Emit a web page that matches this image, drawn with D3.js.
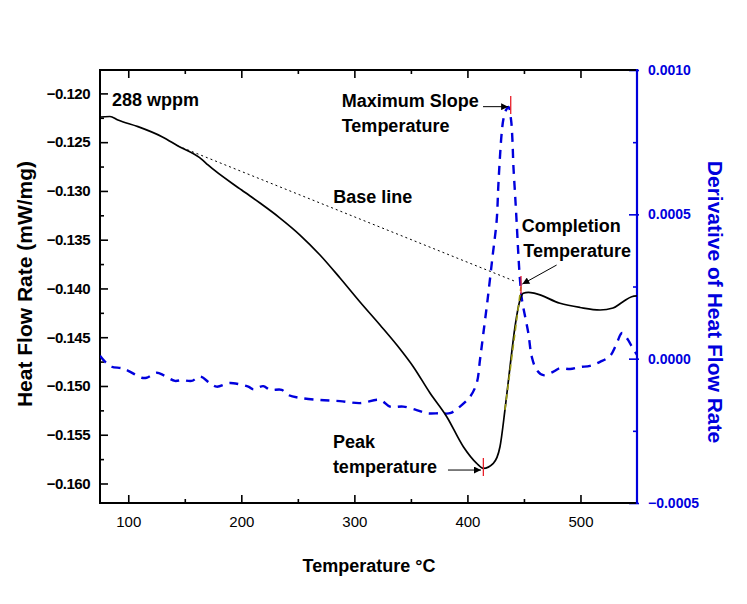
<!DOCTYPE html>
<html><head><meta charset="utf-8">
<script src="https://cdn.jsdelivr.net/npm/d3@7"></script>
<style>
body{margin:0;background:#fff;}
svg text{font-family:"Liberation Sans", Arial, Helvetica, sans-serif;}
</style>
</head><body>
<svg id="chart" width="747" height="604"></svg>
<script>
// ---------------- data ----------------
const hfTemp = [75, 83.8, 90.9, 108.6, 129.8, 144, 165, 170.5, 200.3, 216.5, 234.2, 251.9, 269.6, 287.3, 305, 322.7, 340.4, 352.1, 366.9, 381.7, 396.4, 408.2, 414.1, 422.9, 428.8, 433.2, 437.7, 442.1, 446.5, 449.4, 453.9, 459.8, 481.9, 499.6, 517.3, 528.8, 537.6, 545.3, 550];
const heatFlow = [-0.12242, -0.12237, -0.12273, -0.12341, -0.12444, -0.12539, -0.12676, -0.12734, -0.12991, -0.13124, -0.13278, -0.13452, -0.13657, -0.13893, -0.14139, -0.14375, -0.14621, -0.14802, -0.15072, -0.15315, -0.15623, -0.15793, -0.15844, -0.15793, -0.15623, -0.15246, -0.14802, -0.14392, -0.14118, -0.1405, -0.1404, -0.1405, -0.14152, -0.14195, -0.14221, -0.142, -0.14136, -0.14085, -0.14077];

const dTemp = [75, 79.4, 85.3, 94.2, 100, 111.9, 116.3, 125.2, 131, 141.3, 147.3, 156.1, 163.5, 172.3, 178.2, 188.5, 192.9, 206.2, 210.6, 219.4, 225.4, 235.7, 241.6, 251.9, 269.6, 287.3, 305, 322.7, 331.5, 343.3, 355.1, 364, 375.8, 384.6, 393.4, 402.3, 408.2, 411.1, 414.1, 417.8, 422.2, 425.9, 427.3, 428.8, 430.3, 431.7, 434.1, 436.4, 438.6, 439.8, 440.7, 442.1, 443.6, 445, 446.5, 448.3, 453.9, 456.9, 461.3, 467.2, 476.1, 482, 490.8, 499.6, 508.5, 517.3, 526.1, 531.4, 536.8, 542.1, 545.6, 550];
const derivative = [0.00001, -0.0000105, -0.000028, -0.000033, -0.000042, -0.000066, -0.000066, -0.000049, -0.000057, -0.000077, -0.000074, -0.000077, -0.000062, -0.000085, -0.000097, -0.000085, -0.000085, -0.000097, -0.000106, -0.000095, -0.000108, -0.000108, -0.000126, -0.000136, -0.000143, -0.000147, -0.000154, -0.000143, -0.000166, -0.000166, -0.000178, -0.000189, -0.000189, -0.000189, -0.000166, -0.000132, -0.000085, -0.0000046, 0.000088, 0.000203, 0.000353, 0.00048, 0.000596, 0.0007, 0.000781, 0.000827, 0.000861, 0.000872, 0.000827, 0.000758, 0.000665, 0.000573, 0.000469, 0.000365, 0.000273, 0.000203, 0.000088, 0.0000069, -0.000039, -0.000057, -0.000045, -0.000033, -0.000036, -0.000029, -0.000025, -0.000011, 0.0000093, 0.000047, 0.000089, 0.000065, 0.00004, 0.000013];

// base line (dotted) and tangent (olive)
const baseLineTemp = [144, 443.6];
const baseLineHF = [-0.12539, -0.13934];
const tangentTemp = [433.2, 447.4];
const tangentHF = [-0.15246, -0.1398];

const xTicks = [100, 200, 300, 400, 500];
const xMinor = [150, 250, 350, 450];
const leftTicks = [-0.120, -0.125, -0.130, -0.135, -0.140, -0.145, -0.150, -0.155, -0.160];
const leftMinor = [-0.1225, -0.1275, -0.1325, -0.1375, -0.1425, -0.1475, -0.1525, -0.1575];
const rightTicks = [0.0010, 0.0005, 0.0000, -0.0005];
const rightMinor = [0.00075, 0.00025, -0.00025];

// annotations (data coordinates: temperature, heat flow)
const labels = [
  {t: 85.6, v: -0.12129, text: "288 wppm"},
  {t: 288.8, v: -0.12139, text: "Maximum Slope"},
  {t: 288.8, v: -0.12396, text: "Temperature"},
  {t: 281.4, v: -0.13127, text: "Base line"},
  {t: 448.0, v: -0.13418, text: "Completion"},
  {t: 449.4, v: -0.13674, text: "Temperature"},
  {t: 281.0, v: -0.15636, text: "Peak"},
  {t: 281.0, v: -0.15892, text: "temperature"}
];
const arrows = [
  {t0: 413.8, v0: -0.12136, t1: 436.0, v1: -0.12136},
  {t0: 478.9, v0: -0.13760, t1: 448.6, v1: -0.13955},
  {t0: 382.8, v0: -0.15862, t1: 412.0, v1: -0.15862}
];
const markers = [
  {t: 438.3, v: -0.12120},
  {t: 447.4, v: -0.13965},
  {t: 414.1, v: -0.15831}
];

// ---------------- layout ----------------
const L = 100, R = 637, T = 70, B = 503;
const BLUE = "#0000dd";
const FONT = '"Liberation Sans", Arial, sans-serif';
const svg = d3.select("#chart");

const x = d3.scaleLinear().domain([75, 550]).range([L, R]);
const yL = d3.scaleLinear().domain([-0.1620, -0.1176]).range([B, T]);
const yR = d3.scaleLinear().domain([-0.0005, 0.0010]).range([B, T]);

function style(g, color) {
  g.select(".domain").remove();
  g.selectAll(".tick line").attr("stroke", color).attr("stroke-width", 1.6);
}

// bottom axis
svg.append("g").attr("transform", `translate(0,${B})`)
  .call(d3.axisBottom(x).tickValues(xTicks).tickSize(-8).tickPadding(13).tickFormat(d3.format("d")))
  .call(g => { style(g, "#000"); g.selectAll("text").attr("font-size", 15).attr("fill", "#000").attr("font-family", FONT); });
svg.append("g").attr("transform", `translate(0,${B})`)
  .call(d3.axisBottom(x).tickValues(xMinor).tickSize(-4).tickFormat(""))
  .call(g => style(g, "#000"));
// top axis
svg.append("g").attr("transform", `translate(0,${T})`)
  .call(d3.axisTop(x).tickValues(xTicks).tickSize(-8).tickFormat(""))
  .call(g => style(g, "#000"));
svg.append("g").attr("transform", `translate(0,${T})`)
  .call(d3.axisTop(x).tickValues(xMinor).tickSize(-4).tickFormat(""))
  .call(g => style(g, "#000"));
// left axis
svg.append("g").attr("transform", `translate(${L},0)`)
  .call(d3.axisLeft(yL).tickValues(leftTicks).tickSize(-8).tickPadding(10).tickFormat(d3.format(".3f")))
  .call(g => { style(g, "#000"); g.selectAll("text").attr("font-size", 15).attr("letter-spacing", "-0.5px").attr("font-weight", "bold").attr("fill", "#000").attr("font-family", FONT); });
svg.append("g").attr("transform", `translate(${L},0)`)
  .call(d3.axisLeft(yL).tickValues(leftMinor).tickSize(-4).tickFormat(""))
  .call(g => style(g, "#000"));
// right axis
svg.append("g").attr("transform", `translate(${R},0)`)
  .call(d3.axisRight(yR).tickValues(rightTicks).tickSize(-8).tickPadding(11).tickFormat(d3.format(".4f")))
  .call(g => { style(g, BLUE); g.selectAll(".tick line").attr("x2", -8).attr("x1", 2); g.selectAll("text").attr("font-size", 14).attr("font-weight", "bold").attr("fill", BLUE).attr("font-family", FONT); });
svg.append("g").attr("transform", `translate(${R},0)`)
  .call(d3.axisRight(yR).tickValues(rightMinor).tickSize(-4).tickFormat(""))
  .call(g => style(g, BLUE));

// frame
svg.append("line").attr("x1", L).attr("x2", R).attr("y1", T).attr("y2", T).attr("stroke", "#000").attr("stroke-width", 2);
svg.append("line").attr("x1", L).attr("x2", R).attr("y1", B).attr("y2", B).attr("stroke", "#000").attr("stroke-width", 2);
svg.append("line").attr("x1", L).attr("x2", L).attr("y1", T - 1).attr("y2", B + 1).attr("stroke", "#000").attr("stroke-width", 2);
svg.append("line").attr("x1", R).attr("x2", R).attr("y1", T - 1).attr("y2", B + 1).attr("stroke", BLUE).attr("stroke-width", 2.2);

// clip
svg.append("clipPath").attr("id", "clip").append("rect").attr("x", L).attr("y", T).attr("width", R - L).attr("height", B - T);
const plot = svg.append("g").attr("clip-path", "url(#clip)");

// derivative (blue dashed)
const dLine = d3.line().x(i => x(dTemp[i])).y(i => yR(derivative[i])).curve(d3.curveCatmullRom.alpha(0.5));
plot.append("path").attr("d", dLine(d3.range(dTemp.length)))
  .attr("fill", "none").attr("stroke", BLUE).attr("stroke-width", 2.4).attr("stroke-dasharray", "9,7");

// base line (dotted)
plot.append("path").attr("d", d3.line().x(i => x(baseLineTemp[i])).y(i => yL(baseLineHF[i]))(d3.range(baseLineTemp.length)))
  .attr("fill", "none").attr("stroke", "#000").attr("stroke-width", 1).attr("stroke-dasharray", "2,3");

// heat flow (black)
const hLine = d3.line().x(i => x(hfTemp[i])).y(i => yL(heatFlow[i])).curve(d3.curveMonotoneX);
plot.append("path").attr("d", hLine(d3.range(hfTemp.length)))
  .attr("fill", "none").attr("stroke", "#000").attr("stroke-width", 1.7);

// tangent (olive dashed)
plot.append("path").attr("d", d3.line().x(i => x(tangentTemp[i])).y(i => yL(tangentHF[i]))(d3.range(tangentTemp.length)))
  .attr("fill", "none").attr("stroke", "#9a9a10").attr("stroke-width", 1.6).attr("stroke-dasharray", "6,4");

// markers (red vertical ticks)
svg.selectAll("line.mk").data(markers).join("line").attr("class", "mk")
  .attr("x1", d => x(d.t)).attr("x2", d => x(d.t))
  .attr("y1", d => yL(d.v) - 9).attr("y2", d => yL(d.v) + 9)
  .attr("stroke", "#e8202a").attr("stroke-width", 1.3);

// arrows
const defs = svg.append("defs");
defs.append("marker").attr("id", "ah").attr("viewBox", "0 0 10 10").attr("refX", 10).attr("refY", 5)
  .attr("markerWidth", 8).attr("markerHeight", 7).attr("markerUnits", "userSpaceOnUse").attr("orient", "auto")
  .append("path").attr("d", "M0,0 L10,5 L0,10 Z").attr("fill", "#000");
svg.selectAll("line.arr").data(arrows).join("line").attr("class", "arr")
  .attr("x1", d => x(d.t0)).attr("y1", d => yL(d.v0)).attr("x2", d => x(d.t1)).attr("y2", d => yL(d.v1))
  .attr("stroke", "#000").attr("stroke-width", 1).attr("marker-end", "url(#ah)");

// annotation text
svg.selectAll("text.ann").data(labels).join("text").attr("class", "ann")
  .attr("x", d => x(d.t)).attr("y", d => yL(d.v))
  .attr("font-size", 18).attr("font-weight", "bold").attr("fill", "#000")
  .text(d => d.text);

// axis titles
svg.append("text").attr("transform", "translate(32,284) rotate(-90)").attr("text-anchor", "middle")
  .attr("font-size", 21).attr("font-weight", "bold").attr("fill", "#000").text("Heat Flow Rate (mW/mg)");
svg.append("text").attr("transform", "translate(708,302) rotate(90)").attr("text-anchor", "middle")
  .attr("font-size", 21).attr("font-weight", "bold").attr("fill", BLUE).text("Derivative of Heat Flow Rate");
svg.append("text").attr("x", 369).attr("y", 572).attr("text-anchor", "middle")
  .attr("font-size", 18).attr("font-weight", "bold").attr("fill", "#000").text("Temperature °C");
</script>
</body></html>
